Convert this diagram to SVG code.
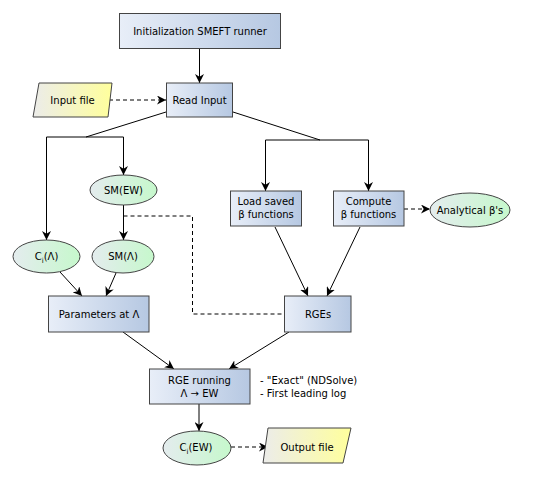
<svg xmlns="http://www.w3.org/2000/svg" width="545" height="479" viewBox="0 0 545 479">
<defs>
<linearGradient id="gBox" x1="0" y1="0" x2="1" y2="0"><stop offset="0" stop-color="#e8eef8"/><stop offset="1" stop-color="#b6c8e2"/></linearGradient>
<linearGradient id="gEll" x1="0" y1="0" x2="1" y2="0"><stop offset="0" stop-color="#e4ecee"/><stop offset="1" stop-color="#c6f8cc"/></linearGradient>
<linearGradient id="gPar" x1="0" y1="0" x2="1" y2="0"><stop offset="0" stop-color="#ececea"/><stop offset="1" stop-color="#ffff9c"/></linearGradient>
<marker id="arr" viewBox="0 0 10 10" refX="10" refY="5" markerWidth="9" markerHeight="9" markerUnits="userSpaceOnUse" orient="auto"><path d="M0,0 L10,5 L0,10 L3,5 Z" fill="#000"/></marker>
</defs>
<style>
.box{fill:url(#gBox);stroke:#444;stroke-width:1}
.ell{fill:url(#gEll);stroke:#444;stroke-width:1}
.par{fill:url(#gPar);stroke:#444;stroke-width:1}
text{font-family:"DejaVu Sans",sans-serif;font-size:10px;fill:#000}
.c{text-anchor:middle}
.ln{fill:none;stroke:#000;stroke-width:1}
.a{marker-end:url(#arr)}
.d{stroke-dasharray:4,3}
</style>
<rect width="545" height="479" fill="#fff"/>
<g id="connectors">
<path class="ln a" d="M199.5,48 V83"/>
<path class="ln a d" d="M109,100 H166"/>
<path class="ln" d="M166,112 L86,137 M46.5,137 H123.5"/>
<path class="ln a" d="M46.5,137 V240"/>
<path class="ln a" d="M123.5,137 V175"/>
<path class="ln" d="M233,112 L320,140 M265.5,140 H368.5"/>
<path class="ln a" d="M265.5,140 V191"/>
<path class="ln a" d="M368.5,140 V191"/>
<path class="ln a d" d="M404,209 H430"/>
<path class="ln a" d="M123.5,205 V240"/>
<path class="ln d" d="M123.5,216 H192.5 V314 H284"/>
<path class="ln a" d="M60,272 L82,296"/>
<path class="ln a" d="M116,273 L106,296"/>
<path class="ln a" d="M275,227 L308,296"/>
<path class="ln a" d="M360,227 L327,296"/>
<path class="ln a" d="M123,332 L174,369"/>
<path class="ln a" d="M289,332 L229,369"/>
<path class="ln a" d="M199,404 V431"/>
<path class="ln a d" d="M231,447 H268"/>
</g>
<g id="init"><rect class="box" x="119.5" y="13.5" width="161" height="35"/><text class="c" x="200" y="34.5">Initialization SMEFT runner</text></g>
<g id="readinput"><rect class="box" x="166.5" y="83" width="66" height="34"/><text class="c" x="199.5" y="103.5">Read Input</text></g>
<g id="inputfile"><polygon class="par" points="39,83 112,83 108,117 33,117"/><text class="c" x="72.5" y="103.5">Input file</text></g>
<g id="smew"><ellipse class="ell" cx="123.5" cy="190" rx="33.5" ry="15"/><text class="c" x="123.5" y="193.5">SM(EW)</text></g>
<g id="loadsaved"><rect class="box" x="230.5" y="191" width="71" height="35"/><text class="c" x="266" y="205">Load saved</text><text class="c" x="266" y="218">β functions</text></g>
<g id="compute"><rect class="box" x="333.5" y="191" width="70.5" height="35"/><text class="c" x="368.5" y="205">Compute</text><text class="c" x="368.5" y="218">β functions</text></g>
<g id="analytical"><ellipse class="ell" cx="470" cy="210" rx="40" ry="17"/><text class="c" x="470" y="213.5">Analytical β's</text></g>
<g id="cilambda"><ellipse class="ell" cx="46.5" cy="256.5" rx="33.5" ry="16.5"/><text class="c" x="46.5" y="259.5">C<tspan font-size="7" dy="3">i</tspan><tspan dy="-3">(Λ)</tspan></text></g>
<g id="smlambda"><ellipse class="ell" cx="123" cy="256.5" rx="31" ry="16.5"/><text class="c" x="123" y="260">SM(Λ)</text></g>
<g id="params"><rect class="box" x="48.5" y="296" width="100.5" height="36"/><text class="c" x="99" y="317.5">Parameters at Λ</text></g>
<g id="rges"><rect class="box" x="284.5" y="296" width="66.5" height="36"/><text class="c" x="318" y="317.5">RGEs</text></g>
<g id="rgerunning"><rect class="box" x="149.5" y="369" width="100.5" height="35"/><text class="c" x="199.5" y="384">RGE running</text><text class="c" x="199.5" y="397">Λ → EW</text></g>
<g id="note"><text x="260" y="384">- "Exact" (NDSolve)</text><text x="260" y="397">- First leading log</text></g>
<g id="ciew"><ellipse class="ell" cx="197" cy="448" rx="34" ry="17"/><text class="c" x="196" y="450.5">C<tspan font-size="7" dy="3">i</tspan><tspan dy="-3">(EW)</tspan></text></g>
<g id="outputfile"><polygon class="par" points="268,428 351,428 343,463 263,463"/><text class="c" x="307" y="450.5">Output file</text></g>
</svg>
